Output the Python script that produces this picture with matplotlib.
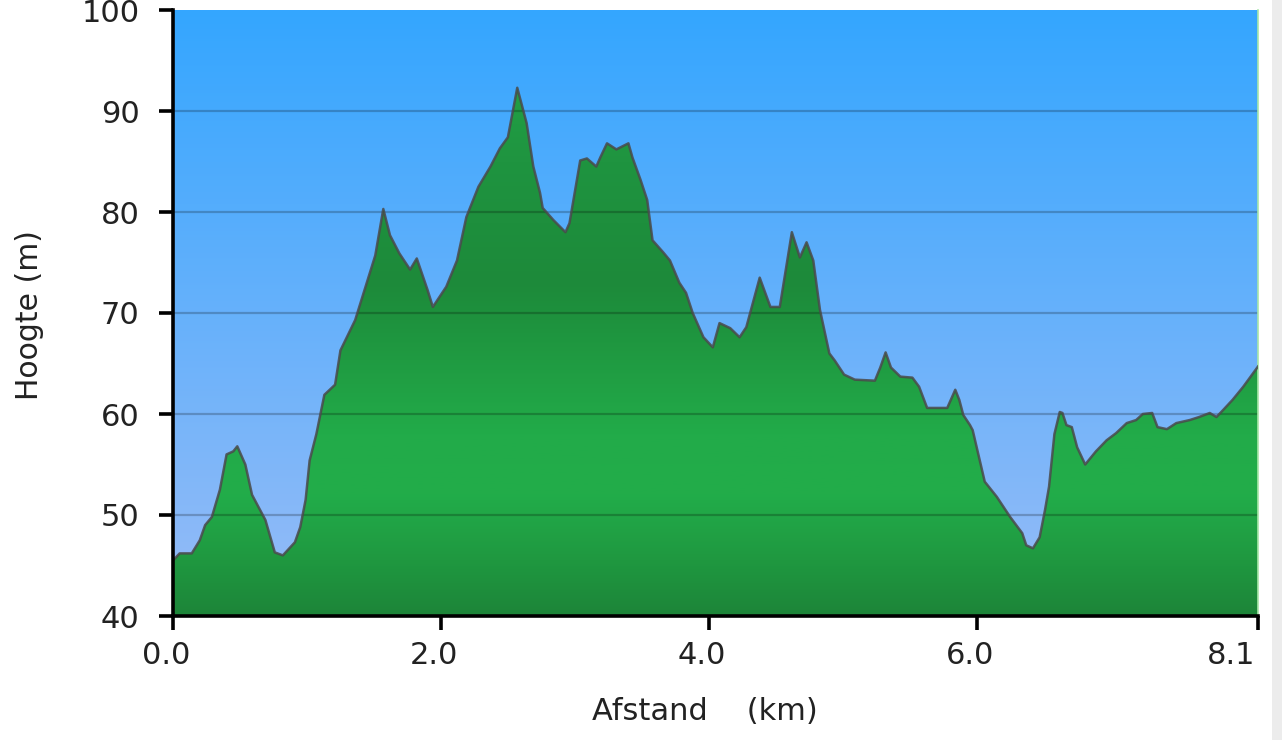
import numpy as np
import matplotlib
matplotlib.use("Agg")
import matplotlib.pyplot as plt
import matplotlib.transforms as mtransforms
from matplotlib.colors import LinearSegmentedColormap
from matplotlib.patches import Rectangle

# ---- data ----
dist_km = [0.00, 0.05, 0.14, 0.20, 0.24, 0.29, 0.35, 0.40, 0.45, 0.48, 0.54, 0.59,
           0.69, 0.76, 0.82, 0.91, 0.95, 0.99, 1.02, 1.07, 1.13, 1.21, 1.25, 1.36,
           1.43, 1.51, 1.57, 1.62, 1.69, 1.77, 1.82, 1.90, 1.94, 2.04, 2.12, 2.19,
           2.28, 2.37, 2.44, 2.50, 2.57, 2.64, 2.69, 2.74, 2.76, 2.84, 2.93, 2.96,
           3.04, 3.09, 3.16, 3.19, 3.24, 3.31, 3.40, 3.43, 3.49, 3.54, 3.58, 3.66,
           3.71, 3.78, 3.83, 3.88, 3.96, 4.03, 4.08, 4.16, 4.23, 4.28, 4.38, 4.46,
           4.53, 4.62, 4.68, 4.73, 4.78, 4.83, 4.90, 4.94, 5.01, 5.09, 5.24, 5.28,
           5.32, 5.36, 5.43, 5.52, 5.57, 5.63, 5.78, 5.84, 5.87, 5.90, 5.95, 5.97,
           6.06, 6.15, 6.25, 6.34, 6.37, 6.42, 6.47, 6.51, 6.54, 6.58, 6.62, 6.64,
           6.67, 6.71, 6.75, 6.81, 6.89, 6.97, 7.04, 7.12, 7.19, 7.24, 7.31, 7.35,
           7.42, 7.49, 7.59, 7.66, 7.74, 7.79, 7.84, 7.91, 7.99, 8.10]
elev_m = [45.5, 46.2, 46.2, 47.5, 49.0, 49.8, 52.5, 56.0, 56.3, 56.8, 55.0, 52.0,
          49.5, 46.3, 46.0, 47.3, 48.8, 51.5, 55.4, 58.0, 61.9, 62.9, 66.3, 69.3,
          72.3, 75.7, 80.3, 77.7, 75.9, 74.3, 75.4, 72.3, 70.6, 72.6, 75.2, 79.5,
          82.5, 84.5, 86.3, 87.4, 92.3, 88.8, 84.5, 81.9, 80.4, 79.2, 78.0, 78.9,
          85.1, 85.3, 84.5, 85.4, 86.8, 86.2, 86.8, 85.4, 83.2, 81.2, 77.2, 76.0,
          75.2, 73.0, 72.0, 70.0, 67.6, 66.6, 69.0, 68.5, 67.6, 68.6, 73.5, 70.6,
          70.6, 78.0, 75.5, 77.0, 75.2, 70.3, 66.0, 65.3, 63.9, 63.4, 63.3, 64.6,
          66.1, 64.6, 63.7, 63.6, 62.7, 60.6, 60.6, 62.4, 61.4, 59.9, 58.9, 58.4,
          53.3, 51.8, 49.8, 48.2, 47.0, 46.7, 47.8, 50.5, 52.8, 58.0, 60.2, 60.1,
          58.9, 58.7, 56.7, 55.0, 56.3, 57.4, 58.1, 59.1, 59.4, 60.0, 60.1, 58.7,
          58.5, 59.1, 59.4, 59.7, 60.1, 59.7, 60.4, 61.4, 62.7, 64.7]
x_ticks = [0.0, 2.0, 4.0, 6.0, 8.1]
x_tick_labels = ["0.0", "2.0", "4.0", "6.0", "8.1"]
y_ticks = [40, 50, 60, 70, 80, 90, 100]

W, H = 1282, 740
fig = plt.figure(figsize=(W / 100, H / 100), dpi=100)
fig.patch.set_facecolor("white")
fig.patches.append(Rectangle((1272 / W, 0), 1 - 1272 / W, 1, transform=fig.transFigure,
                             facecolor="#ececec", edgecolor="none", zorder=-1))

ax = fig.add_axes([173 / W, 1 - 616 / H, (1258 - 173) / W, (616 - 10) / H])
xmin, xmax, ymin, ymax = 0, 8.1, 40, 100
ax.set_xlim(xmin, xmax)
ax.set_ylim(ymin, ymax)

# sky gradient background
sky = LinearSegmentedColormap.from_list("sky", [(0.0, "#98bcf7"), (1.0, "#34a6ff")])
grad = np.linspace(0, 1, 256).reshape(-1, 1)
ax.imshow(grad, cmap=sky, origin="lower", aspect="auto",
          extent=[xmin, xmax, ymin, ymax], zorder=0)

# green fill with vertical gradient, clipped to profile
green = LinearSegmentedColormap.from_list(
    "green", [(0.0, "#1d8539"), (0.08, "#1f963f"), (0.2, "#22ad4a"),
              (0.3, "#22ab49"), (0.55, "#1d8a3a"), (0.75, "#1f9440"), (1.0, "#23ac4a")])
poly = ax.fill_between(dist_km, elev_m, ymin, facecolor="none", edgecolor="none")
gim = ax.imshow(grad, cmap=green, origin="lower", aspect="auto",
                extent=[xmin, xmax, ymin, ymax], zorder=1)
gim.set_clip_path(poly.get_paths()[0], transform=ax.transData)

# grid lines
for yv in y_ticks[1:-1]:
    ax.axhline(yv, color="black", alpha=0.22, lw=1.6, zorder=2)

# outline
ax.plot(dist_km, elev_m, color="#4a4a4a", lw=1.8, alpha=0.85, zorder=3)

ax.spines["top"].set_visible(False)
ax.spines["right"].set_color("#a8e6a8")
ax.spines["right"].set_linewidth(1.2)
for s in ["left", "bottom"]:
    ax.spines[s].set_linewidth(2.6)
    ax.spines[s].set_color("black")
    ax.spines[s].set_zorder(5)

ax.set_xticks(x_ticks)
ax.set_xticklabels(x_tick_labels)
ax.set_yticks(y_ticks)
ax.tick_params(axis="both", direction="out", length=10, width=2.6, color="black",
               labelsize=22, labelcolor="#222222")
ax.tick_params(axis="y", pad=14)
ax.tick_params(axis="x", pad=8)

# x tick labels sit slightly left of their ticks; the last one ends at its tick
shift = mtransforms.ScaledTranslation(-7 / 100, 0, fig.dpi_scale_trans)
xlabels = ax.get_xticklabels()
for lab in xlabels[:-1]:
    lab.set_transform(lab.get_transform() + shift)
xlabels[-1].set_horizontalalignment("right")
xlabels[-1].set_transform(xlabels[-1].get_transform()
                          + mtransforms.ScaledTranslation(-3 / 100, 0, fig.dpi_scale_trans))

fig.text(30 / W, 1 - 315 / H, "Hoogte (m)", rotation=90, ha="center", va="center",
         fontsize=21.5, color="#222222")
fig.text(705 / W, 1 - 711 / H, "Afstand    (km)", ha="center", va="center",
         fontsize=22, color="#222222")

fig.savefig("out.png", dpi=100)
